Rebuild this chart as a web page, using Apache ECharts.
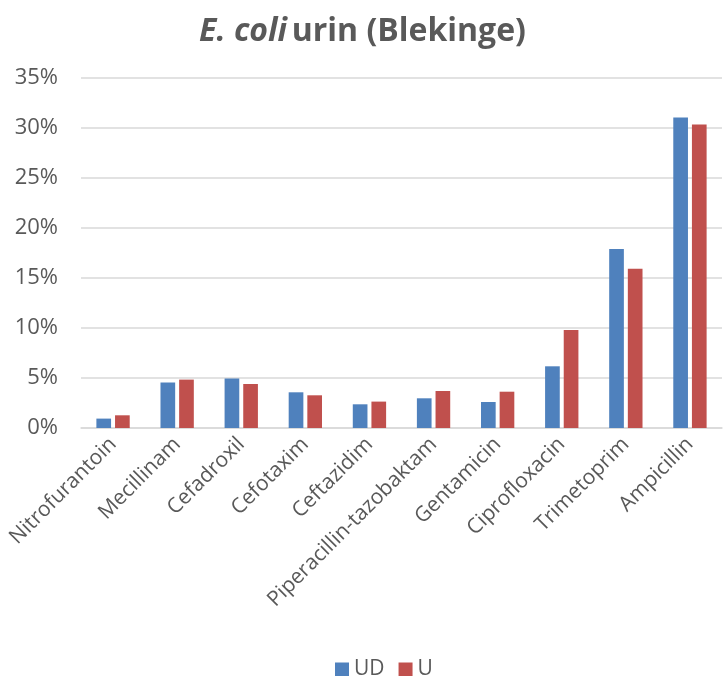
<!DOCTYPE html>
<html><head><meta charset="utf-8">
<script src="https://cdn.jsdelivr.net/npm/echarts@6/dist/echarts.min.js"></script>
<style>html,body{margin:0;padding:0;background:#fff}#c{width:725px;height:676px}</style>
</head><body><div id="c"></div>
<script>
const categories = ['Nitrofurantoin','Mecillinam','Cefadroxil','Cefotaxim','Ceftazidim','Piperacillin-tazobaktam','Gentamicin','Ciprofloxacin','Trimetoprim','Ampicillin'];
const seriesUD = [0.94, 4.55, 4.95, 3.57, 2.37, 2.97, 2.6, 6.17, 17.9, 31.05];
const seriesU = [1.27, 4.84, 4.4, 3.27, 2.64, 3.7, 3.63, 9.8, 15.93, 30.35];
const yTicks = {min: 0, max: 35, interval: 5};
const font = 'Open Sans';
const chart = echarts.init(document.getElementById('c'));
chart.setOption({
  animation: false,
  textStyle: {fontFamily: font},
  title: {
    text: '{i|E. coli} {b|urin (Blekinge)}',
    left: 'center', top: 11,
    textStyle: {
      rich: {
        i: {fontFamily: font, fontSize: 32, fontWeight: 'bold', fontStyle: 'italic', color: '#595959'},
        b: {fontFamily: font, fontSize: 32, fontWeight: 'bold', color: '#595959'}
      }
    }
  },
  legend: {
    top: 654, left: 330,
    itemWidth: 14, itemHeight: 14, itemGap: 14,
    icon: 'rect',
    textStyle: {fontSize: 21, color: '#595959', fontFamily: font}
  },
  grid: {left: 81, right: 3, top: 78, bottom: 248, containLabel: false},
  xAxis: {
    type: 'category', data: categories,
    axisTick: {show: false},
    axisLine: {lineStyle: {color: '#d9d9d9', width: 1.5}},
    axisLabel: {rotate: 45, fontSize: 21, color: '#595959', margin: 13, interval: 0, fontFamily: font}
  },
  yAxis: {
    type: 'value', min: yTicks.min, max: yTicks.max, interval: yTicks.interval,
    axisLine: {show: false}, axisTick: {show: false},
    splitLine: {lineStyle: {color: '#d9d9d9', width: 1.5}},
    axisLabel: {fontSize: 22, color: '#595959', formatter: '{value}%', margin: 23, fontFamily: font}
  },
  series: [
    {name: 'UD', type: 'bar', data: seriesUD, barGap: '27%', barCategoryGap: '48%',
     itemStyle: {color: '#4f81bd'}},
    {name: 'U', type: 'bar', data: seriesU,
     itemStyle: {color: '#c0504d'}}
  ]
});
</script></body></html>
